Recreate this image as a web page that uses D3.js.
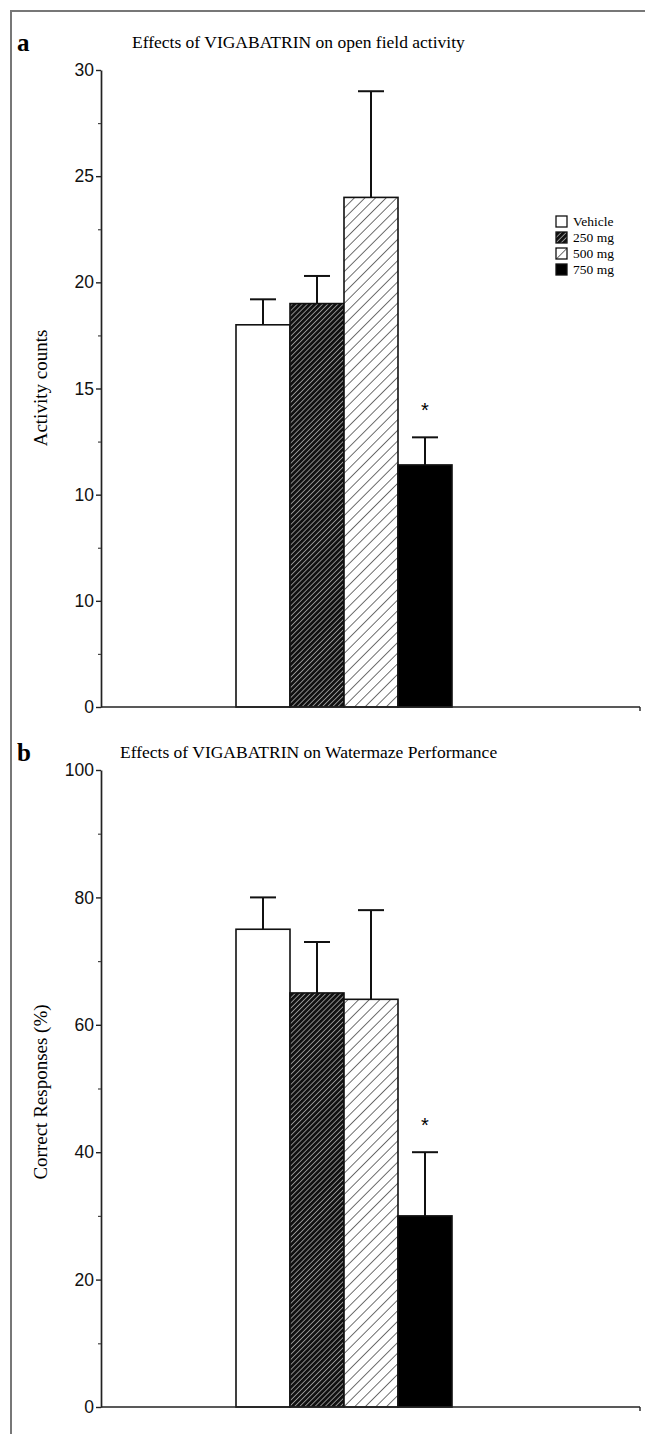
<!DOCTYPE html>
<html>
<head>
<meta charset="utf-8">
<script src="https://cdn.jsdelivr.net/npm/d3@7"></script>
<style>
  body { margin: 0; background: #fff; }
  svg { display: block; }
</style>
</head>
<body>
<svg id="canvas" width="645" height="1434"></svg>
<script>
// groups shared by both panels
let groups = ['Vehicle', '250 mg', '500 mg', '750 mg']

// panel a - open field activity
let activityMeans = [18, 19, 24, 11.4]
let activityErrors = [1.2, 1.3, 5, 1.3]
let activityTicks = [0, 5, 10, 15, 20, 25, 30]
let activityTickLabels = ['0', '10', '10', '15', '20', '25', '30']

// panel b - watermaze
let mazeMeans = [75, 65, 64, 30]
let mazeErrors = [5, 8, 14, 10]
let mazeTicks = [0, 20, 40, 60, 80, 100]
let mazeTickLabels = ['0', '20', '40', '60', '80', '100']

let fills = ['#fff', 'url(#darkHatch)', 'url(#lightHatch)', '#000']

let canvas = d3.select('#canvas')
let defs = canvas.append('defs')

// dense hatch: black with thin white lines
let dark = defs.append('pattern')
    .attr('id', 'darkHatch')
    .attr('patternUnits', 'userSpaceOnUse')
    .attr('width', 3.6).attr('height', 3.6)
    .attr('patternTransform', 'rotate(45)')
dark.append('rect').attr('width', 3.6).attr('height', 3.6).attr('fill', '#111')
dark.append('line').attr('x1', 0).attr('y1', 0).attr('x2', 0).attr('y2', 3.6)
    .attr('stroke', '#eee').attr('stroke-width', 1.1)

// light hatch: white with black lines
let light = defs.append('pattern')
    .attr('id', 'lightHatch')
    .attr('patternUnits', 'userSpaceOnUse')
    .attr('width', 7.5).attr('height', 7.5)
    .attr('patternTransform', 'rotate(45)')
light.append('rect').attr('width', 7.5).attr('height', 7.5).attr('fill', '#fff')
light.append('line').attr('x1', 0).attr('y1', 0).attr('x2', 0).attr('y2', 7.5)
    .attr('stroke', '#222').attr('stroke-width', 1.3)

// outer frame (top and left only)
canvas.append('path')
    .attr('d', 'M11,1434 V11 H645')
    .attr('fill', 'none')
    .attr('stroke', '#777')
    .attr('stroke-width', 2)

let x = d3.scaleBand().domain(groups).range([236, 452]).padding(0)

let drawPanel = (p) => {
    let g = canvas.append('g')
    let y = d3.scaleLinear().domain(p.domain).range([p.bottom, p.top])

    // panel letter and title
    g.append('text')
        .attr('x', 17).attr('y', p.titleY + 3)
        .attr('font-family', 'Liberation Serif, serif')
        .attr('font-weight', 'bold')
        .attr('font-size', 25)
        .text(p.letter)
    g.append('text')
        .attr('x', p.titleX).attr('y', p.titleY)
        .attr('font-family', 'Liberation Serif, serif')
        .attr('font-size', 17.5)
        .text(p.title)

    // y label
    g.append('text')
        .attr('transform', 'translate(' + 47 + ',' + p.labelY + ') rotate(-90)')
        .attr('text-anchor', 'middle')
        .attr('font-family', 'Liberation Serif, serif')
        .attr('font-size', 19)
        .text(p.yLabel)

    // bars
    g.selectAll('rect.bar')
        .data(p.means)
        .enter()
        .append('rect')
        .attr('class', 'bar')
        .attr('x', (d, i) => x(groups[i]))
        .attr('y', (d) => y(d))
        .attr('width', x.bandwidth())
        .attr('height', (d) => y(0) - y(d))
        .attr('fill', (d, i) => fills[i])
        .attr('stroke', '#111')
        .attr('stroke-width', 1.6)

    // error bars
    let err = g.selectAll('g.err')
        .data(p.means)
        .enter()
        .append('g')
        .attr('class', 'err')
        .attr('stroke', '#111')
        .attr('stroke-width', 2)
    err.append('line')
        .attr('x1', (d, i) => x(groups[i]) + x.bandwidth() / 2)
        .attr('x2', (d, i) => x(groups[i]) + x.bandwidth() / 2)
        .attr('y1', (d) => y(d))
        .attr('y2', (d, i) => y(d + p.errors[i]))
    err.append('line')
        .attr('x1', (d, i) => x(groups[i]) + x.bandwidth() / 2 - 13)
        .attr('x2', (d, i) => x(groups[i]) + x.bandwidth() / 2 + 13)
        .attr('y1', (d, i) => y(d + p.errors[i]))
        .attr('y2', (d, i) => y(d + p.errors[i]))

    // significance star on last bar
    let last = groups.length - 1
    g.append('text')
        .attr('x', x(groups[last]) + x.bandwidth() / 2)
        .attr('y', y(p.means[last] + p.errors[last]) - 20)
        .attr('text-anchor', 'middle')
        .attr('font-family', 'Liberation Sans, sans-serif')
        .attr('font-size', 20)
        .text('*')

    // y axis with labelled ticks
    let yAxis = g.append('g')
        .attr('transform', 'translate(101,0)')
        .call(d3.axisLeft(y)
            .tickValues(p.ticks)
            .tickFormat((d, i) => p.tickLabels[i])
            .tickSize(5)
            .tickSizeOuter(0))
    yAxis.select('.domain').attr('stroke', '#222').attr('stroke-width', 1.7)
    yAxis.selectAll('.tick line').attr('stroke', '#222').attr('stroke-width', 1.4)
    yAxis.selectAll('.tick text')
        .attr('font-family', 'Liberation Sans, Arial, sans-serif')
        .attr('font-size', 17.5)
        .attr('fill', '#111')
        .attr('x', -7)

    // minor ticks
    let minor = p.ticks.slice(1).map((t, i) => (t + p.ticks[i]) / 2)
    let minorAxis = g.append('g')
        .attr('transform', 'translate(101,0)')
        .call(d3.axisLeft(y).tickValues(minor).tickFormat('').tickSize(3).tickSizeOuter(0))
    minorAxis.select('.domain').remove()
    minorAxis.selectAll('.tick line').attr('stroke', '#444').attr('stroke-width', 1.2)

    // x axis line
    let xAxis = g.append('g')
        .attr('transform', 'translate(0,' + y(0) + ')')
    xAxis.append('line')
        .attr('x1', 101).attr('x2', 640)
        .attr('stroke', '#222').attr('stroke-width', 1.7)
    xAxis.append('line')
        .attr('x1', 640).attr('x2', 640).attr('y1', 0).attr('y2', 4)
        .attr('stroke', '#222').attr('stroke-width', 1.4)
}

drawPanel({
    letter: 'a',
    title: 'Effects of VIGABATRIN on open field activity',
    titleX: 132, titleY: 48,
    yLabel: 'Activity counts', labelY: 388,
    domain: [0, 30], top: 70, bottom: 707,
    means: activityMeans, errors: activityErrors,
    ticks: activityTicks, tickLabels: activityTickLabels
})

drawPanel({
    letter: 'b',
    title: 'Effects of VIGABATRIN on Watermaze Performance',
    titleX: 120, titleY: 758,
    yLabel: 'Correct Responses (%)', labelY: 1092,
    domain: [0, 100], top: 770, bottom: 1407,
    means: mazeMeans, errors: mazeErrors,
    ticks: mazeTicks, tickLabels: mazeTickLabels
})

// legend
let legend = canvas.append('g')
    .selectAll('g')
    .data(groups)
    .enter()
    .append('g')
    .attr('transform', (d, i) => 'translate(556,' + (216 + i * 16) + ')')
legend.append('rect')
    .attr('width', 11).attr('height', 11)
    .attr('fill', (d, i) => fills[i])
    .attr('stroke', '#111')
    .attr('stroke-width', 1.3)
legend.append('text')
    .attr('x', 17).attr('y', 10)
    .attr('font-family', 'Liberation Serif, serif')
    .attr('font-size', 13.5)
    .text((d) => d)
</script>
</body>
</html>
